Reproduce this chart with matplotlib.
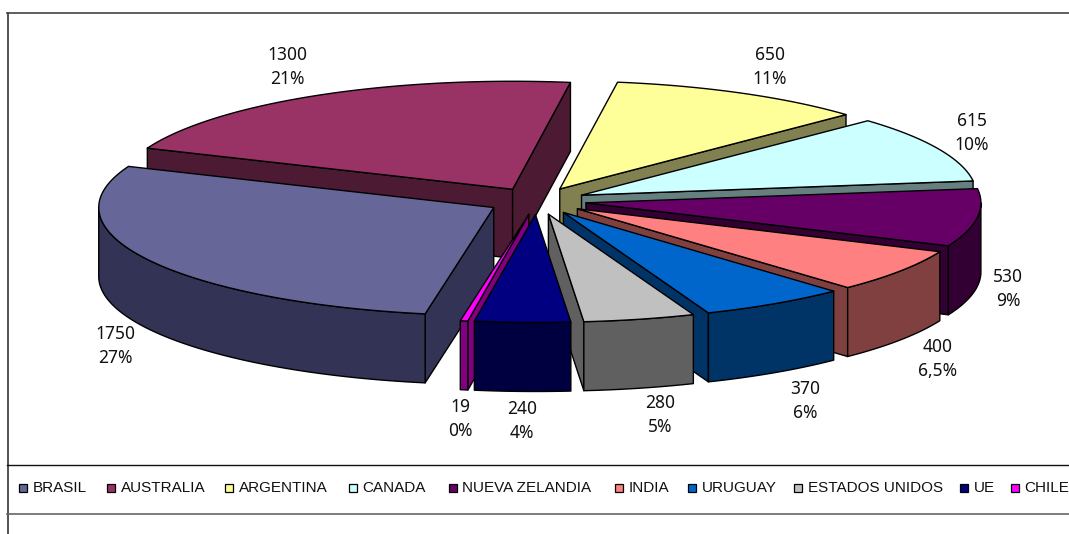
import numpy as np
import matplotlib
matplotlib.use("Agg")
import matplotlib.pyplot as plt
from matplotlib.patches import Polygon, Rectangle

# datos del grafico
paises = ['BRASIL', 'AUSTRALIA', 'ARGENTINA', 'CANADA', 'NUEVA ZELANDIA', 'INDIA',
          'URUGUAY', 'ESTADOS UNIDOS', 'UE', 'CHILE']
valores = [1750, 1300, 650, 615, 530, 400, 370, 280, 240, 19]
porcentajes = ['27%', '21%', '11%', '10%', '9%', '6,5%', '6%', '5%', '4%', '0%']

colores = ['#666699', '#993366', '#FFFF99', '#CCFFFF', '#660066', '#FF8080',
           '#0066CC', '#C0C0C0', '#000080', '#FF00FF']
colores_lado = ['#333355', '#4D1A33', '#808050', '#668080', '#330033', '#804040',
                '#003366', '#606060', '#000040', '#800080']

# posicion de etiquetas y leyenda, en pixeles
pos_etiquetas = [(115, 346), (287, 67), (770, 67), (972, 133), (1008, 289),
                 (938, 359), (805, 401), (660, 415), (522, 421), (460, 419)]
pos_leyenda = [19, 107, 225, 349, 449, 615, 688, 794, 960, 1011]

# geometria de la torta
cx, cy = 537, 201
ra, rb = 395, 108
prof = 69
explota = 0.125
inicio = 190

fig = plt.figure(figsize=(10.69, 5.34), dpi=100)
ax = fig.add_axes([0, 0, 1, 1])
ax.set_xlim(0, 1069)
ax.set_ylim(534, 0)
ax.axis('off')


def borde(centro, ang):
    t = np.radians(ang)
    return np.column_stack([centro[0] + ra * np.sin(t), centro[1] - rb * np.cos(t)])


def poligono(puntos, color, z):
    ax.add_patch(Polygon(puntos, closed=True, facecolor=color, edgecolor='black',
                         linewidth=1.0, joinstyle='round', zorder=z))


total = sum(valores)
fin = inicio + np.cumsum(valores) / total * 360
ini = np.concatenate([[inicio], fin[:-1]])
# las porciones que pasan de la vuelta completa
vuelta = ini >= 360
ini[vuelta] -= 360
fin[vuelta] -= 360
medio = (ini + fin) / 2

# de atras hacia adelante
orden = np.argsort(-np.cos(np.radians(medio)))
for z, i in enumerate(orden):
    a1, a2 = ini[i], fin[i]
    t = np.radians(medio[i])
    apice = (cx + explota * ra * np.sin(t), cy - explota * rb * np.cos(t))
    baja = np.array([0, prof])

    # caras de corte visibles
    if np.sin(np.radians(a1)) < 0:
        p = borde(apice, [a1])[0]
        poligono([apice, p, p + baja, np.array(apice) + baja], colores_lado[i], 2 * z + 1)
    if np.sin(np.radians(a2)) > 0:
        p = borde(apice, [a2])[0]
        poligono([apice, p, p + baja, np.array(apice) + baja], colores_lado[i], 2 * z + 1)

    # pared exterior, solo la parte de adelante
    d1, d2 = max(a1, 90), min(a2, 270)
    if d1 < d2:
        arco = borde(apice, np.linspace(d1, d2, 60))
        poligono(np.vstack([arco, arco[::-1] + baja]), colores_lado[i], 2 * z + 1)

    # cara superior
    arco = borde(apice, np.linspace(a1, a2, 120))
    poligono(np.vstack([[apice], arco]), colores[i], 2 * z + 2)

    x, y = pos_etiquetas[i]
    ax.text(x, y, f'{valores[i]}\n{porcentajes[i]}', ha='center', va='center', fontsize=12.5,
            family='Noto Sans', color='#111111', linespacing=1.4, zorder=100)

# marco del grafico
ax.plot([7.5, 7.5], [13, 534], color='#333333', lw=1.2)
ax.plot([7, 1069], [13, 13], color='#444444', lw=1.2)
ax.plot([7, 1069], [465, 465], color='#111111', lw=1.0)
ax.plot([7, 1069], [514, 514], color='#666666', lw=1.2)

# leyenda
for nombre, color, x in zip(paises, colores, pos_leyenda):
    ax.add_patch(Rectangle((x, 484), 8, 8, facecolor=color, edgecolor='black', linewidth=0.9))
    ax.text(x + 13.5, 488, nombre, ha='left', va='center', fontsize=11, family='Liberation Sans',
            color='#111111', clip_on=True)

fig.savefig('out.png', dpi=100)
